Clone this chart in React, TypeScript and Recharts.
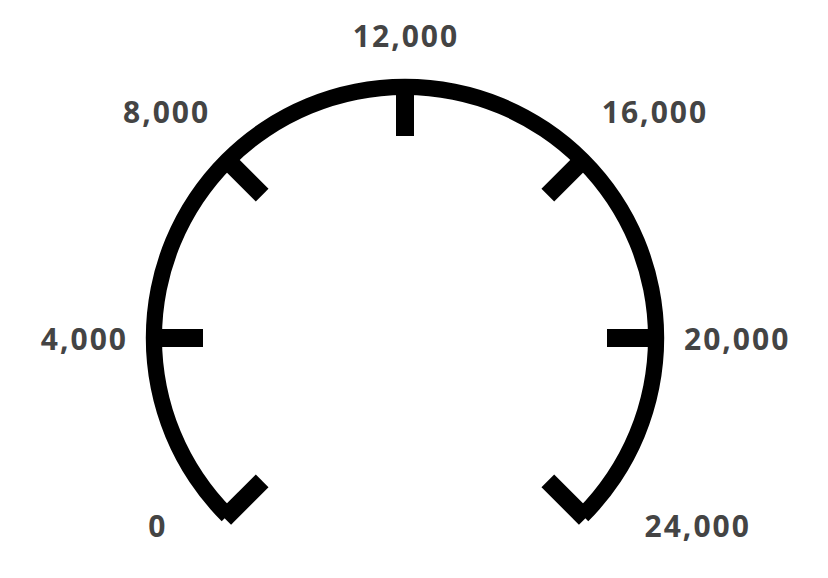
import { RadialBarChart, RadialBar, PolarAngleAxis, PolarRadiusAxis } from "recharts";

// gauge scale
const tickValues = [0, 4000, 8000, 12000, 16000, 20000, 24000];
const gaugeMax = 24000;
const gaugeValue = [{ name: "scale", value: 24000 }];

const CX = 405;
const CY = 338;
const ARC_MID = 251;
const TICK_INNER = 202;

const fmt = (v: number) => v.toLocaleString("en-US");

// tick mark pointing inward + label outside the ring
function GaugeTick(props: any) {
  const { x, y, payload } = props;
  const a = Math.atan2(-(y - CY), x - CX); // radians, math orientation
  const cos = Math.cos(a);
  const sin = Math.sin(a);
  const p = (r: number, ang = a) => ({ x: CX + r * Math.cos(ang), y: CY - r * Math.sin(ang) });
  const p1 = p(ARC_MID + 4);
  const p2 = p(TICK_INNER);

  // label placement: sides sit closer, diagonals nudged a few degrees
  let ang = a;
  let r = 303;
  if (Math.abs(cos) > 0.9) r = 279;
  else if (Math.abs(cos) > 0.3) {
    const shift = ((sin > 0 ? 4 : 7) * Math.PI) / 180;
    ang = cos < 0 ? a - shift : a + shift;
    r = sin > 0 ? 300 : 304;
  }
  const lp = p(r, ang);
  const anchor = cos < -0.3 ? "end" : cos > 0.3 ? "start" : "middle";
  // letter-spacing leaves a trailing gap; pull end-anchored text back
  const dx = anchor === "end" ? 2 : anchor === "middle" ? 1 : 0;

  return (
    <g>
      <line x1={p1.x} y1={p1.y} x2={p2.x} y2={p2.y} stroke="#000" strokeWidth={18} />
      <text
        x={lp.x + dx}
        y={lp.y}
        textAnchor={anchor}
        dominantBaseline="central"
        fill="#444"
        fontFamily="'Open Sans', sans-serif"
        fontWeight={700}
        fontSize={30}
        letterSpacing={2}
      >
        {fmt(payload.value)}
      </text>
    </g>
  );
}

export default function App() {
  return (
    <div style={{ position: "absolute", left: 0, top: 0, width: 828, height: 578, background: "#fff" }}>
      <RadialBarChart
        width={828}
        height={578}
        cx={CX}
        cy={CY}
        innerRadius={242}
        outerRadius={260}
        startAngle={225}
        endAngle={-45}
        data={gaugeValue}
        barCategoryGap={0}
        margin={{ top: 0, right: 0, bottom: 0, left: 0 }}
      >
        <PolarAngleAxis
          type="number"
          domain={[0, gaugeMax]}
          ticks={tickValues}
          tick={<GaugeTick />}
          tickLine={false}
          axisLine={false}
        />
        <PolarRadiusAxis type="category" tick={false} axisLine={false} />
        <RadialBar dataKey="value" fill="#000" barSize={18} isAnimationActive={false} />
      </RadialBarChart>
    </div>
  );
}
